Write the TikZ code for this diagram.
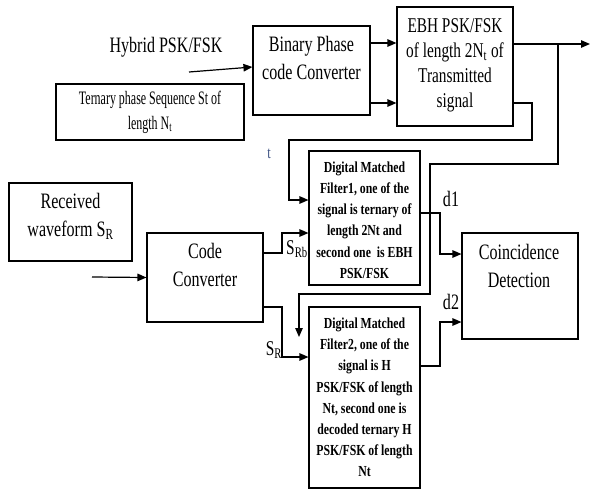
\documentclass[tikz,border=0pt]{standalone}
\usepackage{fontspec}
\setmainfont{Liberation Serif}
\newfontfamily\nf[FakeStretch=0.73]{Liberation Serif}
\newfontfamily\tnf[FakeStretch=0.63]{Liberation Serif}
\newfontfamily\dmf[FakeStretch=0.77]{Liberation Serif}
\usetikzlibrary{arrows.meta}
\begin{document}
\begin{tikzpicture}[x=1pt,y=-1pt,
  box/.style={draw, line width=1.1pt, inner sep=0pt, anchor=center},
  txt/.style={align=center, inner sep=0pt, anchor=center},
  big/.style={font=\nf\fontsize{22}{28}\selectfont},
  ebhf/.style={font=\nf\fontsize{21}{25}\selectfont},
  tern/.style={font=\tnf\fontsize{19}{25}\selectfont},
  dmff/.style={font=\dmf\bfseries\fontsize{15.3}{21.2}\selectfont},
  conn/.style={line width=1.2pt},
  arr/.style={conn, -{Triangle[length=9pt,width=7.5pt]}}]
\useasboundingbox (0,0) rectangle (590,490);
\fill[white] (0,0) rectangle (590,490);

% boxes
\node[box, minimum width=117pt, minimum height=89pt] (bin) at (311.5,70.5) {};
\node[box, minimum width=116pt, minimum height=119pt] (ebh) at (455,66.5) {};
\node[box, minimum width=188pt, minimum height=56pt] (ter) at (150,112) {};
\node[box, minimum width=123pt, minimum height=78pt] (rec) at (70.5,222) {};
\node[box, minimum width=116pt, minimum height=89pt] (code) at (205,277.5) {};
\node[box, minimum width=111pt, minimum height=134pt] (dmfa) at (364.5,218) {};
\node[box, minimum width=111pt, minimum height=181pt] (dmfb) at (364.5,397.5) {};
\node[box, minimum width=116pt, minimum height=106pt] (coin) at (520,286) {};

% texts
\node[txt, big] (hyb) at (166,47) {Hybrid PSK/FSK};
\node[txt, big] (bint) at (311.5,58) {Binary Phase\\code Converter};
\node[txt, ebhf] (ebht) at (455,65.5) {EBH PSK/FSK\\of length 2N\textsubscript{t} of\\Transmitted\\signal};
\node[txt, tern] (tert) at (150,112) {Ternary phase Sequence St of\\length N\textsubscript{t}};
\node[txt, big] (rect) at (70.5,216) {Received\\waveform S\textsubscript{R}};
\node[txt, big] (codet) at (205,265) {Code\\Converter};
\node[txt, big] (coint) at (519,266) {Coincidence\\Detection};
\node[txt, dmff] (dmfat) at (364.5,220) {Digital Matched\\Filter1, one of the\\signal is ternary of\\length 2Nt and\\second one\ \ is EBH\\PSK/FSK};
\node[txt, dmff] (dmfbt) at (364.5,397.5) {Digital Matched\\Filter2, one of the\\signal is H\\PSK/FSK of length\\Nt, second one is\\decoded ternary H\\PSK/FSK of length\\Nt};
\node[txt, big] (d1) at (451,199) {d1};
\node[txt, big] (d2) at (451,302) {d2};
\node[txt, font=\nf\fontsize{21}{24}\selectfont] (srb) at (297,249) {S\textsubscript{Rb}};
\node[txt, font=\nf\fontsize{21}{24}\selectfont] (sr) at (274,350) {S\textsubscript{R}};
\node[txt, font=\nf\fontsize{17}{18}\selectfont, text={rgb,255:red,60;green,80;blue,130}] (tl) at (269,154) {t};

% connectors
\coordinate (hin) at (189,72);
\draw[arr] (hin) -- (bin.west |- 0,67);
\draw[arr] (bin.east |- 0,43) -- (ebh.west |- 0,43);
\draw[arr] (bin.east |- 0,103) -- (ebh.west |- 0,103);
\coordinate (eout) at (590,44);
\draw[arr] (ebh.east |- 0,44) -- (eout);
\coordinate (br) at (558,44);
\coordinate (fb) at (299,337);
\draw[arr] (br) -- (558,164) -- (430,164) -- (430,294) -- (299,294) -- (fb);
\draw[arr] (ebh.east |- 0,103) -- (532,103) -- (532,140) -- (289,140) -- (289,200) -- (dmfa.west |- 0,200);
\coordinate (rin) at (92,277);
\draw[arr] (rin) -- (code.west);
\draw[arr] (code.east |- 0,253) -- (282,253) -- (282,233) -- (dmfa.west |- 0,233);
\draw[arr] (code.east |- 0,307) -- (282,307) -- (282,357) -- (dmfb.west |- 0,357);
\draw[arr] (dmfa.east |- 0,213) -- (440,213) -- (440,254) -- (coin.west |- 0,254);
\draw[arr] (dmfb.east |- 0,366) -- (440,366) -- (440,322) -- (coin.west |- 0,322);
\end{tikzpicture}
\end{document}
